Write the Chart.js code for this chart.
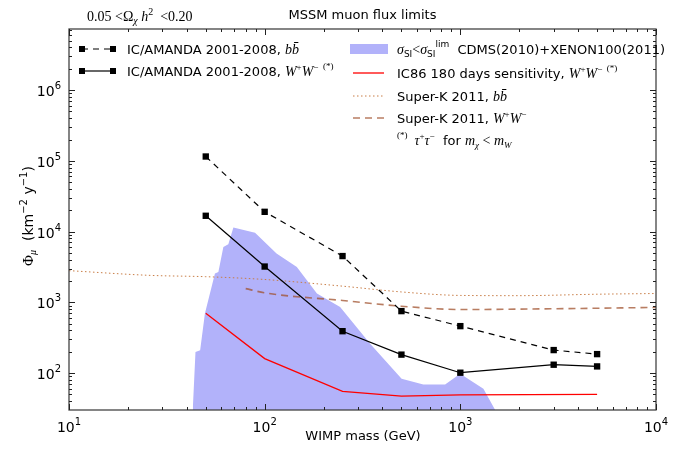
<!DOCTYPE html>
<html>
<head>
<meta charset="utf-8">
<script src="https://cdn.jsdelivr.net/npm/chart.js@4.4.1/dist/chart.umd.min.js"></script>
<style>
  html, body { margin: 0; padding: 0; background: #fff; }
  #wrap { width: 680px; height: 451px; }
</style>
</head>
<body>
<div id="wrap"><canvas id="c" width="680" height="451"></canvas></div>
<script>
// IC/AMANDA 2001-2008 limits
const massIC = [50, 100, 250, 500, 1000, 3000, 5000];
const fluxICbb = [1.15e5, 1.9e4, 4.5e3, 750, 460, 211, 185];
const fluxICww = [1.67e4, 3.2e3, 390, 182, 101, 131, 124];

// IC86 180 days sensitivity
const massIC86 = [50, 100, 250, 500, 1000, 5000];
const fluxIC86 = [700, 160, 55, 47, 49, 50];

// Super-K 2011
const massSKbb = [10, 26, 50, 100, 250, 500, 1000, 2000, 5000, 10000];
const fluxSKbb = [2800, 2400, 2300, 2100, 1690, 1400, 1250, 1240, 1300, 1330];
const massSKww = [80, 100, 250, 500, 1000, 3000, 10000];
const fluxSKww = [1560, 1360, 1060, 880, 790, 810, 845];

// MSSM models allowed by CDMS(2010)+XENON100(2011) (upper edge of region)
const massDM = [42.9, 44.3, 46.8, 49.5, 55.7, 58, 61.5, 65.2, 69.2, 89.3, 115, 146, 185, 243, 346, 501, 647, 836, 998, 1312, 1507];
const fluxDM = [30, 198, 209, 692, 2550, 2690, 6070, 6600, 11400, 9600, 4900, 3160, 1330, 858, 260, 83, 69, 69, 98, 60, 30];

const xMin = 10, xMax = 10000;
const yMin = 30, yMax = 7.3e6;
const xMajor = [10, 100, 1000, 10000];
const yMajor = [100, 1000, 10000, 100000, 1000000];

const pts = (xs, ys) => xs.map((x, i) => ({ x: x, y: ys[i] }));

const SANS = '"DejaVu Sans", sans-serif';
const SERIF = '"Liberation Serif", "DejaVu Serif", serif';
const BLUE = 'rgb(178,178,250)';
const DOT = 'rgb(200,125,70)';
const DASHB = 'rgba(160,82,45,0.75)';

// draw a run of text pieces: [text, font, dy]
function rich(ctx, x, y, parts, measureOnly) {
    let cx = x;
    parts.forEach(([t, f, dy]) => {
        ctx.font = f;
        if (!measureOnly) ctx.fillText(t, cx, y + (dy || 0));
        cx += ctx.measureText(t).width;
    });
    return cx - x;
}

function minors(lo, hi) {
    const out = [];
    for (let e = Math.floor(Math.log10(lo)); e <= Math.ceil(Math.log10(hi)); e++) {
        for (let k = 2; k <= 9; k++) {
            const v = k * Math.pow(10, e);
            if (v > lo && v < hi) out.push(v);
        }
    }
    return out;
}

const decor = {
    id: 'decor',
    afterDraw(chart) {
        const ctx = chart.ctx;
        const a = chart.chartArea;
        const sx = chart.scales.x, sy = chart.scales.y;
        ctx.save();

        // frame
        ctx.strokeStyle = '#444';
        ctx.lineWidth = 1.3;
        ctx.strokeRect(a.left, a.top, a.right - a.left, a.bottom - a.top);

        // ticks, inward on all sides
        ctx.strokeStyle = '#222';
        ctx.lineWidth = 1;
        ctx.beginPath();
        const tx = (v, len) => {
            const p = Math.round(sx.getPixelForValue(v)) + 0.5;
            ctx.moveTo(p, a.bottom); ctx.lineTo(p, a.bottom - len);
            ctx.moveTo(p, a.top); ctx.lineTo(p, a.top + len);
        };
        const ty = (v, len) => {
            const p = Math.round(sy.getPixelForValue(v)) + 0.5;
            ctx.moveTo(a.left, p); ctx.lineTo(a.left + len, p);
            ctx.moveTo(a.right, p); ctx.lineTo(a.right - len, p);
        };
        xMajor.forEach((v) => tx(v, 6));
        minors(xMin, xMax).forEach((v) => tx(v, 3));
        yMajor.forEach((v) => ty(v, 6));
        minors(yMin, yMax).forEach((v) => ty(v, 3));
        ctx.stroke();

        // tick labels
        ctx.fillStyle = '#000';
        ctx.textBaseline = 'alphabetic';
        ctx.textAlign = 'left';
        xMajor.forEach((v) => {
            const p = sx.getPixelForValue(v);
            const parts = [['10', '14px ' + SANS, 0], [String(Math.log10(v)), '10px ' + SANS, -7]];
            const w = rich(ctx, 0, 0, parts, true);
            rich(ctx, p - w / 2, 432, parts);
        });
        yMajor.forEach((v) => {
            const p = sy.getPixelForValue(v);
            const parts = [['10', '14px ' + SANS, 0], [String(Math.log10(v)), '10px ' + SANS, -7]];
            const w = rich(ctx, 0, 0, parts, true);
            rich(ctx, a.left - 8 - w, p + 6, parts);
        });

        // title and annotation
        ctx.font = '13px ' + SANS;
        ctx.textAlign = 'center';
        ctx.fillText('MSSM muon flux limits', (a.left + a.right) / 2, 19);
        ctx.textAlign = 'left';
        rich(ctx, 87, 21, [
            ['0.05 <\u03A9', '14px ' + SERIF, 0],
            ['\u03C7', 'italic 10px ' + SERIF, 3],
            [' h', 'italic 14px ' + SERIF, 0],
            ['2', '10px ' + SERIF, -6],
            ['  <0.20', '14px ' + SERIF, 0],
        ]);

        // axis titles
        ctx.font = '13px ' + SANS;
        ctx.textAlign = 'center';
        ctx.fillText('WIMP mass (GeV)', 363, 440);
        ctx.textAlign = 'left';
        const yl = [
            ['\u03A6', '15px ' + SERIF, 0],
            ['\u03BC', 'italic 10px ' + SERIF, 3],
            ['  (km', '14px ' + SANS, 0],
            ['\u22122', '10px ' + SANS, -6],
            [' y', '14px ' + SANS, 0],
            ['\u22121', '10px ' + SANS, -6],
            [')', '14px ' + SANS, 0],
        ];
        const ylw = rich(ctx, 0, 0, yl, true);
        ctx.save();
        ctx.translate(33, 216);
        ctx.rotate(-Math.PI / 2);
        rich(ctx, -ylw / 2, 0, yl);
        ctx.restore();

        // legend, left column
        const L = '13px ' + SANS;
        const bb = [['b', 'italic 14px ' + SERIF, 0], ['b\u0304', 'italic 14px ' + SERIF, 0]];
        const ww = [['W', 'italic 14px ' + SERIF, 0], ['+', '9px ' + SERIF, -6], ['W', 'italic 14px ' + SERIF, 0], ['\u2212', '9px ' + SERIF, -6]];
        const star = [['  (*)', '9px ' + SERIF, -7]];
        const seg = (x1, x2, y, color, width, dash) => {
            ctx.save();
            ctx.strokeStyle = color; ctx.lineWidth = width; ctx.setLineDash(dash);
            ctx.beginPath(); ctx.moveTo(x1, y); ctx.lineTo(x2, y); ctx.stroke();
            ctx.restore();
        };
        const mark = (x, y) => { ctx.fillStyle = '#000'; ctx.fillRect(x - 3, y - 3, 6, 6); };

        seg(82, 113, 49, '#000', 1.2, [6, 5]); mark(82, 49); mark(113, 49);
        ctx.fillStyle = '#000';
        rich(ctx, 127, 54, [['IC/AMANDA 2001-2008, ', L, 0]].concat(bb));
        seg(82, 113, 71, '#000', 1.2, []); mark(82, 71); mark(113, 71);
        ctx.fillStyle = '#000';
        rich(ctx, 127, 76, [['IC/AMANDA 2001-2008, ', L, 0]].concat(ww, star));

        // legend, right column
        ctx.fillStyle = BLUE;
        ctx.fillRect(350, 44, 38, 10);
        ctx.fillStyle = '#000';
        rich(ctx, 397, 54, [
            ['\u03C3', 'italic 14px ' + SERIF, 0], ['SI', '9px ' + SANS, 3],
            ['<', '14px ' + SERIF, 0],
            ['\u03C3', 'italic 14px ' + SERIF, 0], ['SI', '9px ' + SANS, 3],
            ['lim', '9px ' + SANS, -7],
            ['  CDMS(2010)+XENON100(2011)', L, 0],
        ]);
        seg(353, 384, 73, 'red', 1.3, []);
        rich(ctx, 397, 78, [['IC86 180 days sensitivity, ', L, 0]].concat(ww, star));
        seg(353, 384, 96, DOT, 1, [1.5, 2.5]);
        rich(ctx, 397, 101, [['Super-K 2011, ', L, 0]].concat(bb));
        seg(353, 386, 118, DASHB, 1.6, [7, 5]);
        rich(ctx, 397, 123, [['Super-K 2011, ', L, 0]].concat(ww));
        rich(ctx, 397, 145, [
            ['(*)', '9px ' + SERIF, -7],
            ['  \u03C4', 'italic 14px ' + SERIF, 0], ['+', '9px ' + SERIF, -6],
            ['\u03C4', 'italic 14px ' + SERIF, 0], ['\u2212', '9px ' + SERIF, -6],
            ['  for ', L, 0],
            ['m', 'italic 14px ' + SERIF, 0], ['\u03C7', 'italic 9px ' + SERIF, 3],
            [' < ', '14px ' + SERIF, 0],
            ['m', 'italic 14px ' + SERIF, 0], ['W', 'italic 9px ' + SERIF, 3],
        ]);

        ctx.restore();
    },
};

new Chart(document.getElementById('c'), {
    type: 'line',
    data: {
        datasets: [
            {
                label: 'CDMS(2010)+XENON100(2011)',
                data: pts(massDM, fluxDM),
                borderWidth: 0,
                borderColor: BLUE,
                backgroundColor: BLUE,
                fill: 'start',
                pointRadius: 0,
                order: 10,
            },
            {
                label: 'Super-K 2011, bb',
                data: pts(massSKbb, fluxSKbb),
                borderColor: DOT,
                borderWidth: 1,
                borderDash: [1.5, 2.5],
                pointRadius: 0,
                cubicInterpolationMode: 'monotone',
                order: 5,
            },
            {
                label: 'Super-K 2011, WW',
                data: pts(massSKww, fluxSKww),
                borderColor: DASHB,
                borderWidth: 1.6,
                borderDash: [7, 5],
                pointRadius: 0,
                cubicInterpolationMode: 'monotone',
                order: 4,
            },
            {
                label: 'IC86 180 days sensitivity',
                data: pts(massIC86, fluxIC86),
                borderColor: 'red',
                borderWidth: 1.3,
                pointRadius: 0,
                order: 3,
            },
            {
                label: 'IC/AMANDA 2001-2008, bb',
                data: pts(massIC, fluxICbb),
                borderColor: '#000',
                backgroundColor: '#000',
                borderWidth: 1.2,
                borderDash: [6, 5],
                pointStyle: 'rect',
                pointRadius: 4.5,
                pointBorderWidth: 0,
                order: 2,
            },
            {
                label: 'IC/AMANDA 2001-2008, WW',
                data: pts(massIC, fluxICww),
                borderColor: '#000',
                backgroundColor: '#000',
                borderWidth: 1.2,
                pointStyle: 'rect',
                pointRadius: 4.5,
                pointBorderWidth: 0,
                order: 1,
            },
        ],
    },
    options: {
        responsive: false,
        animation: false,
        events: [],
        layout: { padding: { left: 69, right: 24, top: 29, bottom: 41 } },
        plugins: { legend: { display: false }, tooltip: { enabled: false } },
        scales: {
            x: {
                type: 'logarithmic',
                min: xMin,
                max: xMax,
                ticks: { display: false },
                grid: { display: false },
                border: { display: false },
                afterFit: (s) => { s.height = 0; },
            },
            y: {
                type: 'logarithmic',
                min: yMin,
                max: yMax,
                ticks: { display: false },
                grid: { display: false },
                border: { display: false },
                afterFit: (s) => { s.width = 0; },
            },
        },
    },
    plugins: [decor],
});
</script>
</body>
</html>
